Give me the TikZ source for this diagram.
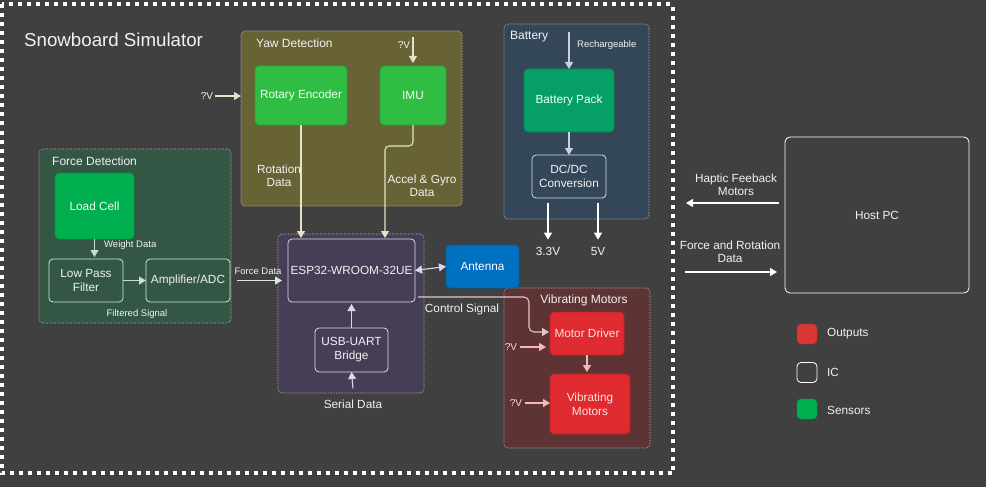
\documentclass[tikz,border=0pt]{standalone}
\usepackage{fontspec}
\setmainfont{Liberation Sans}
\usetikzlibrary{arrows.meta,calc}
\definecolor{bg}{HTML}{404040}
\definecolor{yawfill}{HTML}{676335}
\definecolor{yawline}{HTML}{E6E2C6}
\definecolor{sensgreen}{HTML}{30BD44}
\definecolor{batfill}{HTML}{344759}
\definecolor{batline}{HTML}{C6D2E0}
\definecolor{packgreen}{HTML}{06A067}
\definecolor{forcefill}{HTML}{335744}
\definecolor{forceline}{HTML}{C6E0CF}
\definecolor{cellgreen}{HTML}{00B050}
\definecolor{espfill}{HTML}{463E55}
\definecolor{espline}{HTML}{DCD4EA}
\definecolor{antblue}{HTML}{0070C0}
\definecolor{vibfill}{HTML}{5E3333}
\definecolor{vibline}{HTML}{F4B8B8}
\definecolor{motred}{HTML}{DF2A2F}
\definecolor{legred}{HTML}{D93636}
\definecolor{txt}{HTML}{F2F2F2}
\definecolor{ctrl}{HTML}{E0C8C8}
\begin{document}
\begin{tikzpicture}[x=1pt,y=-1pt,
  grp/.style={fill=#1, draw=white!70!#1, densely dotted, line width=0.6pt, rounded corners=4pt, inner sep=0pt, outer sep=0pt},
  grplabel/.style={text=txt, font=\fontsize{12}{14}\selectfont, inner sep=0pt},
  blk/.style={rounded corners=4pt, inner sep=1pt, outer sep=0pt, align=center, font=\fontsize{11.8}{14}\selectfont},
  sensor/.style={blk, fill=#1, draw=black!15!#1, line width=0.6pt, text=white!95!green},
  icbox/.style={blk, draw=#1, line width=0.8pt, text=txt},
  outbox/.style={blk, fill=motred, draw=black!15!motred, line width=0.6pt, text=white!88!red},
  small/.style={text=txt, font=\fontsize{9.5}{11}\selectfont, inner sep=0pt},
  lbl/.style={text=txt, font=\fontsize{11.8}{13.5}\selectfont, inner sep=0pt, align=center},
  arr/.style={-{Triangle[length=7pt,width=8pt]}, line width=1.1pt, draw=#1},
  plain/.style={line width=1.1pt, draw=#1}
]
\fill[bg] (0,0) rectangle (986,487);
\useasboundingbox (0,0) rectangle (986,487);

% outer dotted frame
\draw[white, line width=4pt, dash pattern=on 4pt off 5pt] (2,4.5) rectangle (673,473);
\node[anchor=west, text=txt, font=\fontsize{18.7}{22}\selectfont, inner sep=0pt] (title) at (24,40) {Snowboard Simulator};

% ---- groups
\node[grp=yawfill, minimum width=221pt, minimum height=175pt] (yaw) at (351.5,118.5) {};
\node[grp=batfill, minimum width=145pt, minimum height=195pt] (bat) at (576.5,121.5) {};
\node[grp=forcefill, minimum width=192pt, minimum height=174pt] (force) at (135,236) {};
\node[grp=espfill, minimum width=146pt, minimum height=159pt] (espg) at (351,313.5) {};
\node[grp=vibfill, minimum width=146pt, minimum height=160pt] (vib) at (577,368) {};

\node[grplabel, anchor=west] (yawl) at (256,43) {Yaw Detection};
\node[grplabel, anchor=west] (batl) at (510,37) {Battery};
\node[grplabel, anchor=west] (forcel) at (52,161) {Force Detection};
\node[grplabel] (vibl) at (584,300) {Vibrating Motors};

% ---- yaw detection
\node[sensor=sensgreen, minimum width=92pt, minimum height=59pt] (rot) at (301,95.5) {Rotary Encoder};
\node[sensor=sensgreen, minimum width=66pt, minimum height=59pt] (imu) at (413,95.5) {IMU};
\node[small, font=\fontsize{10}{12}\selectfont] (v1) at (207,96) {?V};
\node[small, font=\fontsize{10}{12}\selectfont] (v2) at (404,45) {?V};
\node[lbl] (rotd) at (279,176) {Rotation\\Data};
\node[lbl] (accd) at (422,186) {Accel \& Gyro\\Data};

% ---- battery
\node[sensor=packgreen, minimum width=90pt, minimum height=63pt] (pack) at (569,100.5) {Battery Pack};
\node[icbox=batline!80, minimum width=74pt, minimum height=43pt] (dcdc) at (569,176.5) {DC/DC\\Conversion};
\node[small, anchor=west] (rch) at (577,45) {Rechargeable};
\node[lbl] (v33) at (548,251) {3.3V};
\node[lbl] (v5) at (598,251) {5V};
\coordinate (rchtop) at (569,32);

% ---- force detection
\node[sensor=cellgreen, minimum width=79pt, minimum height=66pt] (cell) at (94.5,206) {Load Cell};
\node[icbox=forceline!80, minimum width=74pt, minimum height=43pt] (lpf) at (86,280.5) {Low Pass\\Filter};
\node[icbox=forceline!80, minimum width=84pt, minimum height=43pt] (amp) at (188,280.5) {Amplifier/ADC};
\node[small, anchor=west] (wd) at (104,245) {Weight Data};
\node[small] (fs) at (137,314) {Filtered Signal};
\node[small] (fd) at (258,271) {Force Data};

% ---- ESP
\node[icbox=espline!85, minimum width=127pt, minimum height=63pt] (esp) at (351.5,270.5) {ESP32-WROOM-32UE};
\node[icbox=espline!85, minimum width=73pt, minimum height=44pt] (usb) at (351.5,350) {USB-UART\\Bridge};
\node[blk, fill=antblue, draw=black!15!antblue, line width=0.6pt, text=white, minimum width=73pt, minimum height=43pt] (ant) at (482.5,266.5) {Antenna};
\node[lbl] (sd) at (353,404) {Serial Data};
\node[lbl] (cs) at (462,309) {Control Signal};

% ---- vibrating motors
\node[outbox, minimum width=74pt, minimum height=43pt] (md) at (587,333.5) {Motor Driver};
\node[outbox, minimum width=80pt, minimum height=60pt] (vm) at (590,404) {Vibrating\\Motors};
\node[small, font=\fontsize{10}{12}\selectfont, text=white!85!red] (v3) at (511,347) {?V};
\node[small, font=\fontsize{10}{12}\selectfont, text=white!85!red] (v4) at (516,403) {?V};

% ---- host
\node[icbox=white!80, minimum width=184pt, minimum height=156pt, rounded corners=5pt] (host) at (877,215) {Host PC};
\node[lbl] (hapt) at (736,185) {Haptic Feeback\\Motors};
\node[lbl] (frd) at (730,252) {Force and Rotation\\Data};

% ---- legend
\node[blk, fill=legred, draw=black!15!legred, minimum width=20pt, minimum height=20pt] (lgo) at (807,334) {};
\node[blk, draw=white!75, line width=0.8pt, minimum width=20pt, minimum height=20pt] (lgi) at (807,372.5) {};
\node[blk, fill=cellgreen, draw=black!15!cellgreen, minimum width=20pt, minimum height=20pt] (lgs) at (807,409) {};
\node[lbl, anchor=west] (lgot) at (827,334) {Outputs};
\node[lbl, anchor=west] (lgit) at (827,372) {IC};
\node[lbl, anchor=west] (lgst) at (827,410) {Sensors};

% ---- connectors
\draw[arr=yawline] ([xshift=2pt]v1.east) -- (v1.east -| yaw.west);
\draw[arr=yawline] ([yshift=4pt]imu.north |- v2.north) -- ([yshift=3pt]imu.north);
\draw[arr=yawline] (rot.south) -- ([yshift=1pt]rot.south |- esp.north);
\coordinate (accbend) at (385,146);
\draw[arr=yawline, rounded corners=4pt] (imu.south) |- (accbend) -- ([yshift=1pt]accbend |- esp.north);

\draw[arr=batline] (rchtop) -- (pack.north);
\draw[arr=batline] (pack.south) -- (dcdc.north);
\draw[arr=white!90] ([yshift=-5pt]dcdc.south -| v33.north) -- ([yshift=7pt]v33.north);
\draw[arr=white!90] ([yshift=-5pt]dcdc.south -| v5.north) -- ([yshift=7pt]v5.north);

\draw[arr=forceline] (cell.south) -- ([yshift=2pt]cell.south |- lpf.north);
\draw[arr=forceline] (lpf.east) -- (amp.west);
\draw[arr=forceline!70!white] ([xshift=7pt]amp.east) -- ([xshift=-6pt]amp.east -| esp.west);

\draw[arr=espline] (usb.north) -- ([yshift=-2pt]esp.south);
\draw[arr=espline] ([yshift=11pt]sd.north) -- (usb.south);
\draw[{Triangle[length=7pt,width=8pt]}-{Triangle[length=7pt,width=8pt]}, line width=1.1pt, draw=espline] (esp.east) -- (ant.west);

\coordinate (csbend) at (529,297);
\draw[arr=ctrl, rounded corners=5pt] ([xshift=3pt,yshift=5pt]esp.south east) -- (csbend) |- ([xshift=-1pt]md.west |- 0,332);

\draw[arr=vibline] ([xshift=3pt]v3.east) -- ([xshift=-4pt]v3.east -| md.west);
\draw[arr=vibline] ([xshift=3pt]v4.east) -- (v4.east -| vm.west);
\draw[arr=vibline] (md.south) -- ([yshift=2pt]md.south |- vm.north);

\draw[arr=white!88] ([xshift=-6pt,yshift=12pt]host.west) -- ([xshift=-99pt,yshift=12pt]host.west);
\draw[arr=white!88] ([xshift=-100pt,yshift=-57pt]host.west) -- ([xshift=-8pt,yshift=-57pt]host.west);
\end{tikzpicture}
\end{document}
